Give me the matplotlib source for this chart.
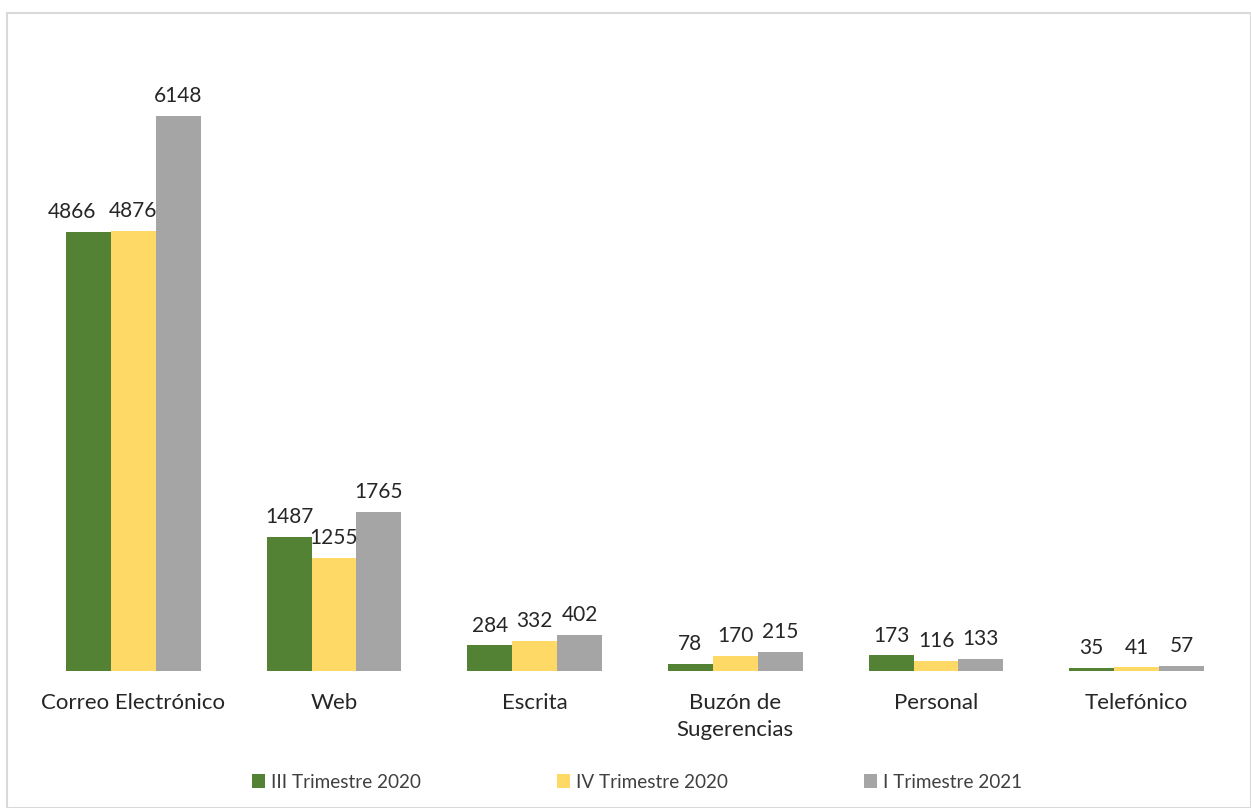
import numpy as np
import matplotlib.pyplot as plt

plt.rcParams['font.family'] = ['Lato', 'DejaVu Sans']

categories = ["Correo Electrónico", "Web", "Escrita", "Buzón de\nSugerencias", "Personal", "Telefónico"]
series_names = ["III Trimestre 2020", "IV Trimestre 2020", "I Trimestre 2021"]
iii_2020 = [4866, 1487, 284, 78, 173, 35]
iv_2020 = [4876, 1255, 332, 170, 116, 41]
i_2021 = [6148, 1765, 402, 215, 133, 57]
colors = ["#548235", "#FFD966", "#A5A5A5"]

fig = plt.figure(figsize=(12.51, 8.08), dpi=100)
ax = fig.add_axes([33 / 1251, 1 - 671 / 808, (1237 - 33) / 1251, (671 - 39) / 808])

x = np.arange(len(categories))
w = 0.224
for i, (vals, name, c) in enumerate(zip([iii_2020, iv_2020, i_2021], series_names, colors)):
    bars = ax.bar(x + (i - 1) * w, vals, w, color=c, label=name)
    for j, (b, v) in enumerate(zip(bars, vals)):
        # the first label is pushed left so it does not run into its neighbour
        dx = -12 if (i == 0 and j == 0) else 0
        ax.annotate(str(v), (b.get_x() + b.get_width() / 2, v), xytext=(dx, 7),
                    textcoords="offset points", ha="center", va="bottom",
                    fontsize=15, color="#262626")

ax.set_xlim(-0.5, len(categories) - 0.5)
ax.set_ylim(0, 7000)
ax.set_xticks(x)
ax.set_xticklabels(categories, fontsize=16, color="#262626", linespacing=1.45)
ax.tick_params(axis="x", length=0, pad=16)
ax.set_yticks([])
for s in ax.spines.values():
    s.set_visible(False)

fig.legend(loc="center", bbox_to_anchor=(637 / 1251, 1 - 782 / 808), ncol=3, frameon=False,
           fontsize=13.6, handlelength=0.7, handleheight=0.7, handletextpad=0.3,
           columnspacing=7.2, labelcolor="#404040")

fig.patches.append(plt.Rectangle((7 / 1251, 0), 1 - 7 / 1251, 1 - 13 / 808, transform=fig.transFigure,
                                 fill=False, edgecolor="#D9D9D9", linewidth=1.5))

fig.savefig("out.png", dpi=100)
